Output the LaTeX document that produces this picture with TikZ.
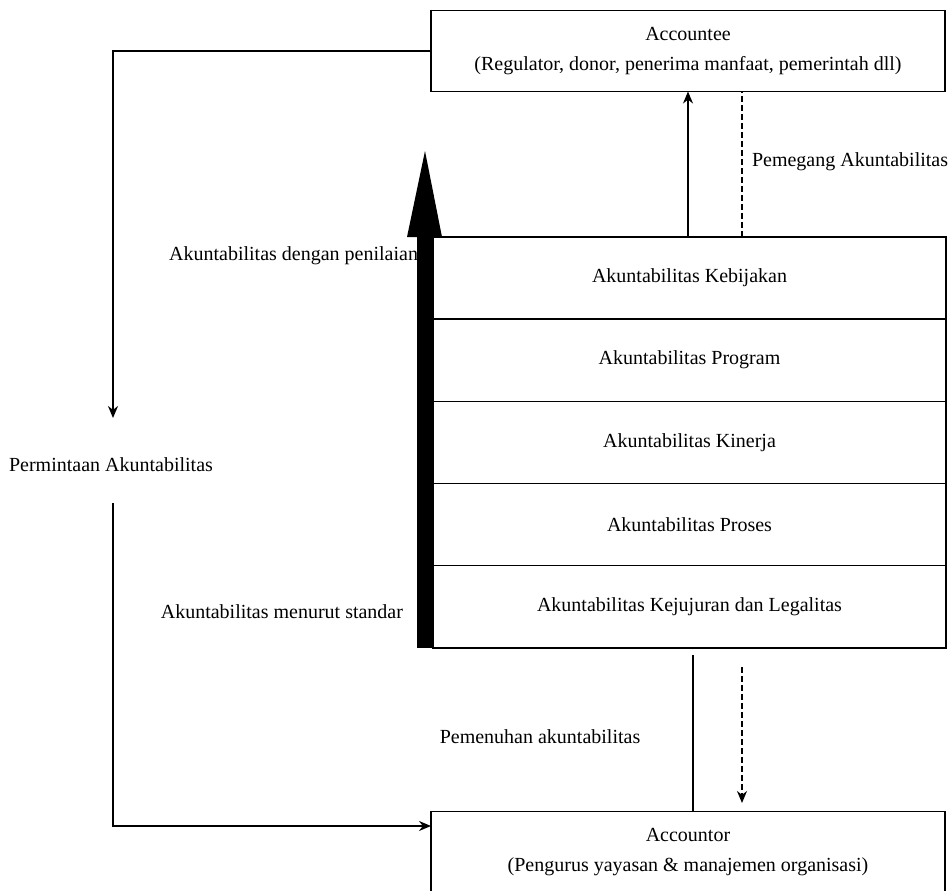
\documentclass[tikz,border=0pt]{standalone}
\usepackage{fontspec}
\setmainfont{Liberation Serif}
\newfontfamily\diagfont{Liberation Serif}
\usetikzlibrary{arrows.meta}
\usetikzlibrary{positioning}

\begin{document}
\begin{tikzpicture}[
        x=1pt, y=-1pt,
        every node/.style={font=\diagfont\fontsize{20}{30}\selectfont, outer sep=0pt},
        party/.style={rectangle, draw=black, line width=1.4pt, align=center, minimum width=514pt, minimum height=81pt},
        level/.style={rectangle, draw=black, line width=1.4pt, minimum width=513pt, minimum height=82.2pt, node distance=0pt},
        label/.style={inner sep=0pt},
        link/.style={line width=1.4pt},
        tip/.style={-{Stealth[length=12pt, width=10pt]}},
    ]
    \useasboundingbox (0,0) rectangle (948,891);

    \node[party]      (TOP)                          at (688,51)  {Accountee\\(Regulator, donor, penerima manfaat, pemerintah dll)};
    \node[party]      (BOT)                          at (688,852) {Accountor\\(Pengurus yayasan \& manajemen organisasi)};

    \node[level]      (L1)                           at (689.5,278) {Akuntabilitas Kebijakan};
    \node[level]      (L2)        [below=of L1]      {Akuntabilitas Program};
    \node[level]      (L3)        [below=of L2]      {Akuntabilitas Kinerja};
    \node[level]      (L4)        [below=of L3]      {Akuntabilitas Proses};
    \node[level]      (L5)        [below=of L4]      {Akuntabilitas Kejujuran dan Legalitas};

    \node[label]      (REQ)                          at (111,465) {Permintaan Akuntabilitas};
    \node[label, anchor=west] (HOLD)                 at (752,162) {Pemegang Akuntabilitas};
    \node[label, anchor=east] (ASSESS)               at (418,256) {Akuntabilitas dengan penilaian};
    \node[label, anchor=east] (STD)                  at (403,612) {Akuntabilitas menurut standar};
    \node[label]      (FULFIL)                       at (540,737) {Pemenuhan akuntabilitas};

    \coordinate       (C1)        at (113,51);
    \coordinate       (C2)        at (113,826);
    \coordinate       (C3)        at (431,826);

    % permintaan loop
    \draw[link, tip] (TOP.west) -- (C1) -- (C1 |- 0,418);
    \draw[link, tip] (C2 |- 0,503) -- (C2) -- (C3);

    % between accountee and levels
    \draw[link, tip] (L1.north -| TOP.south) -- (TOP.south);
    \draw[link, dashed, dash pattern=on 6pt off 3pt] (L1.north -| 742,0) -- (TOP.south -| 742,0);

    % between levels and accountor
    \draw[link] (693,655) -- (BOT.north -| 693,0);
    \draw[link, tip, dash pattern=on 6pt off 3pt] (742,667) -- (742,803);

    % thick arrow
    \fill[black] (417,237) rectangle (433,648);
    \fill[black] (407,237) -- (425,151) -- (442,237) -- cycle;
\end{tikzpicture}
\end{document}
